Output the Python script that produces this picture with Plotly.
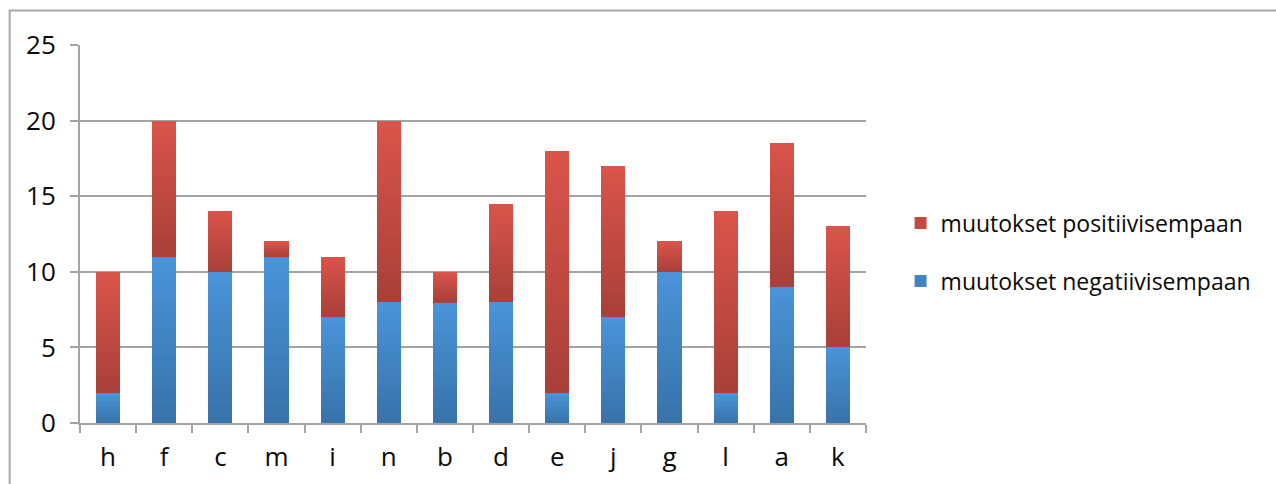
import plotly.graph_objects as go

# Category order as shown along the x axis
categories = ["h", "f", "c", "m", "i", "n", "b", "d", "e", "j", "g", "l", "a", "k"]

# Counts per category (stacked: negative changes at the bottom, positive on top)
negative = [2, 11, 10, 11, 7, 8, 8, 8, 2, 7, 10, 2, 9, 5]
positive = [8, 9, 4, 1, 4, 12, 2, 6.5, 16, 10, 2, 12, 9.5, 8]

series_names = ["muutokset negatiivisempaan", "muutokset positiivisempaan"]

# Gradient end colours (bottom -> top) for each series
BLUE_DARK, BLUE_LIGHT = (56, 114, 169), (74, 148, 217)
RED_DARK, RED_LIGHT = (168, 64, 57), (218, 84, 75)

SLICES = 24
FONT = "Open Sans"
GRID = "#a3a3a3"


def mix(c0, c1, t):
    return "rgb({},{},{})".format(*[round(a + (b - a) * t) for a, b in zip(c0, c1)])


fig = go.Figure()

# Each series is drawn as a stack of thin slices so the fill fades from dark at
# the bottom to light at the top of every segment.
for name, values, dark, light, rank in [
    (series_names[0], negative, BLUE_DARK, BLUE_LIGHT, 2),
    (series_names[1], positive, RED_DARK, RED_LIGHT, 1),
]:
    for k in range(SLICES):
        color = mix(dark, light, (k + 0.5) / SLICES)
        fig.add_trace(go.Bar(
            x=categories,
            y=[v / SLICES for v in values],
            name=name,
            legendgroup=name,
            legendrank=rank,
            showlegend=(k == SLICES // 2),
            marker=dict(color=color, line=dict(width=0)),
            hoverinfo="skip",
        ))

fig.update_layout(
    width=1276,
    height=484,
    barmode="stack",
    bargap=0.57,
    paper_bgcolor="white",
    plot_bgcolor="white",
    margin=dict(l=80, r=410, t=45, b=61, autoexpand=False),
    font=dict(family=FONT, size=23, color="#0a0a0a"),
    showlegend=True,
    legend=dict(
        x=1.044,
        y=0.452,
        xanchor="left",
        yanchor="middle",
        traceorder="grouped",
        tracegroupgap=25,
        font=dict(family=FONT, size=23, color="#0a0a0a"),
        bgcolor="rgba(0,0,0,0)",
        borderwidth=0,
    ),
    xaxis=dict(
        type="category",
        automargin=False,
        showgrid=False,
        showline=True,
        linecolor=GRID,
        linewidth=2,
        ticks="outside",
        tickson="boundaries",
        ticklen=8,
        tickwidth=2,
        tickcolor=GRID,
        tickfont=dict(family=FONT, size=26, color="#0a0a0a"),
        ticklabelstandoff=10,
        zeroline=False,
    ),
    yaxis=dict(
        range=[0, 25],
        automargin=False,
        tickvals=[0, 5, 10, 15, 20, 25],
        showgrid=True,
        gridcolor=GRID,
        gridwidth=2,
        showline=True,
        linecolor=GRID,
        linewidth=2,
        ticks="outside",
        ticklen=8,
        tickwidth=2,
        tickcolor=GRID,
        tickfont=dict(family=FONT, size=26, color="#0a0a0a"),
        ticklabelstandoff=9,
        zeroline=False,
    ),
    shapes=[
        # chart-area frame, running off the right and bottom edges
        dict(type="rect", xref="paper", yref="paper",
             x0=-0.0895, x1=1.6, y0=-0.5, y1=1.0913,
             line=dict(color="#a8a8a8", width=2), fillcolor="rgba(0,0,0,0)",
             layer="below"),
    ],
)

fig.write_html("out.html")
